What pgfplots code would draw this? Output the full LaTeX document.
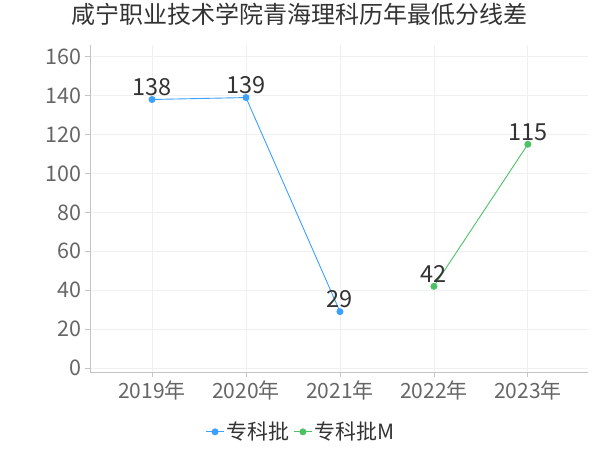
\documentclass[border=0pt]{standalone}
\usepackage{fontspec}
\setmainfont{Noto Sans CJK SC}
\usepackage{pgfplots}
\pgfplotsset{compat=1.18}
\usetikzlibrary{calc}
\definecolor{serA}{HTML}{3BA0FF}
\definecolor{serB}{HTML}{4DC264}
\definecolor{tickgray}{HTML}{666666}
\definecolor{labgray}{HTML}{333333}
\definecolor{gridgray}{HTML}{F0F0F0}
\definecolor{axgray}{HTML}{C4C4C4}
\begin{document}
\begin{tikzpicture}
\begin{axis}[name=ax, scale only axis, width=498bp, height=327bp,
  xmin=-0.66, xmax=4.64, ymin=-2, ymax=166,
  xtick={0,1,2,3,4}, xticklabels={2019年,2020年,2021年,2022年,2023年},
  ytick={0,20,...,160},
  /pgf/number format/assume math mode=true,
  axis x line*=bottom, axis y line*=left,
  axis line style={axgray, line width=0.8pt},
  tick style={axgray, line width=0.8pt}, tick align=outside, major tick length=5bp,
  grid=major, major grid style={gridgray, line width=0.8pt},
  yticklabel style={font=\fontsize{21.5bp}{24bp}\selectfont, text=tickgray},
  xticklabel style={font=\fontsize{21bp}{24bp}\selectfont, text=tickgray},
  title={咸宁职业技术学院青海理科历年最低分线差},
  title style={font=\fontsize{24bp}{28bp}\selectfont, color=labgray, at={(0.5,1)}, anchor=center, yshift=25bp, xshift=-39bp},
  legend style={at={(axis description cs:0.5,-0.183)}, anchor=center, xshift=-38bp, draw=none, fill=none,
    font=\fontsize{21bp}{24bp}\selectfont, text=labgray, legend columns=-1,
    /tikz/every even column/.append style={column sep=2bp}},
  legend image code/.code={\draw[#1] (0bp,0bp) -- (18bp,0bp); \fill[#1] (9bp,0bp) circle (3bp);},
  clip=false,
  nodes near coords, every node near coord/.append style={font=\fontsize{23.5bp}{27bp}\selectfont, text=labgray, yshift=0bp},
]
\addplot[serA, line width=0.9pt, mark=*, mark size=3bp, mark options={fill=serA}]
  coordinates {(0,138) (1,139) (2,29)};
\addplot[serB, line width=0.9pt, mark=*, mark size=3bp, mark options={fill=serB}]
  coordinates {(3,42) (4,115)};
\legend{专科批,专科批M}
\end{axis}
\pgfresetboundingbox
\useasboundingbox ($(ax.south west)+(-90bp,-78bp)$) rectangle ($(ax.north east)+(12bp,45bp)$);
\end{tikzpicture}
\end{document}
